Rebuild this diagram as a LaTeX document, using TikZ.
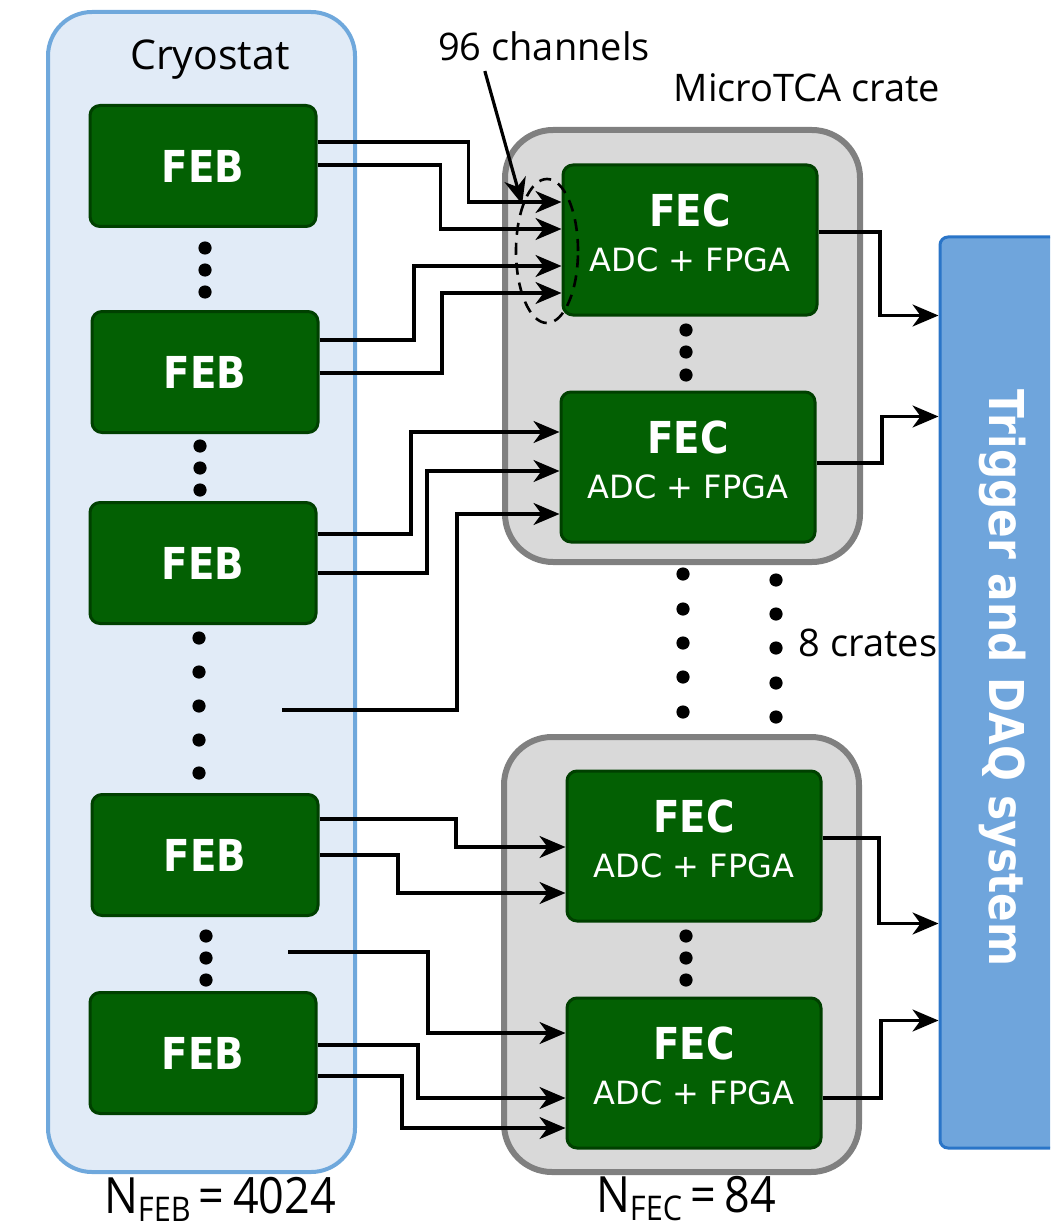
\documentclass[tikz,border=0pt]{standalone}
\usepackage{fontspec}
\setmainfont{Open Sans}
\newfontfamily\boxfont{DejaVu Sans}
\newfontfamily\boxboldfont[FakeStretch=0.88]{DejaVu Sans}
\newfontfamily\countfont[FakeStretch=0.9]{Open Sans}
\usetikzlibrary{arrows.meta,calc,shapes.geometric}

\definecolor{cryofill}{RGB}{225,235,247}
\definecolor{cryoline}{RGB}{111,168,220}
\definecolor{cratefill}{RGB}{217,217,217}
\definecolor{crateline}{RGB}{128,128,128}
\definecolor{febgreen}{RGB}{3,96,3}
\definecolor{febline}{RGB}{0,64,0}
\definecolor{daqfill}{RGB}{111,165,220}
\definecolor{daqline}{RGB}{42,117,200}

\tikzset{
  cryobox/.style={rectangle, rounded corners=22pt, draw=cryoline, line width=2pt, fill=cryofill,
    minimum width=153.5pt, minimum height=580pt},
  cratebox/.style={rectangle, rounded corners=24pt, draw=crateline, line width=3pt, fill=cratefill,
    minimum width=177.5pt, minimum height=216pt},
  febbox/.style={rectangle, rounded corners=5pt, draw=febline, line width=1.5pt, fill=febgreen,
    minimum width=113pt, minimum height=60.5pt, text=white,
    font=\boxboldfont\bfseries\fontsize{22}{24}\selectfont},
  fecbox/.style={rectangle, rounded corners=5pt, draw=febline, line width=1.5pt, fill=febgreen,
    minimum width=127pt, minimum height=75pt, text=white, align=center, text depth=7pt,
    font=\boxfont\fontsize{16}{22.5}\selectfont},
  daqbox/.style={rectangle, rounded corners=4pt, draw=daqline, line width=1.5pt, fill=daqfill,
    minimum width=75pt, minimum height=455.5pt},
  daqtext/.style={text=white, rotate=-90, inner sep=0pt,
    font=\boxboldfont\bfseries\fontsize{24}{28}\selectfont},
  notetext/.style={inner sep=0pt, font=\fontsize{19}{22}\selectfont},
  counttext/.style={inner sep=0pt, font=\countfont\fontsize{25}{28}\selectfont},
  sig/.style={line width=1.6pt, -{Stealth[length=13pt, width=11pt, inset=4pt]}},
}

\newcommand{\fechead}{{\boxboldfont\bfseries\fontsize{22}{22.5}\selectfont FEC}}

\begin{document}
\begin{tikzpicture}[x=0.5pt, y=-0.5pt]
  \useasboundingbox (0,0) rectangle (1050,1230);

  % cryostat with the front-end boards
  \node[cryobox] (cryostat) at (201.5,592) {};
  \node[notetext, font=\fontsize{20.5}{24}\selectfont] (cryolabel) at (210,60) {Cryostat};

  \node[febbox] (feb1) at (203,166) {FEB};
  \node[febbox] (feb2) at (205,372) {FEB};
  \node[febbox] (feb3) at (203,563) {FEB};
  \node[febbox] (feb4) at (205,855) {FEB};
  \node[febbox] (feb5) at (203,1053) {FEB};

  \foreach \y in {248,270,292} \fill (205,\y) circle (3.3pt);
  \foreach \y in {446,468,490} \fill (200,\y) circle (3.3pt);
  \foreach \y in {638,672,706,740,773} \fill (199,\y) circle (3.3pt);
  \foreach \y in {936,958,980} \fill (206,\y) circle (3.3pt);

  % MicroTCA crates with the front-end cards
  \node[cratebox] (crate1) at (682.5,346) {};
  \node[cratebox, minimum height=217.5pt] (crate2) at (681.5,954.5) {};
  \node[notetext] (cratelabel) at (807,88) {MicroTCA crate};

  \node[fecbox] (fec1) at (690,240) {\fechead\\ADC + FPGA};
  \node[fecbox] (fec2) at (688,467) {\fechead\\ADC + FPGA};
  \node[fecbox] (fec3) at (694,846) {\fechead\\ADC + FPGA};
  \node[fecbox] (fec4) at (694,1073) {\fechead\\ADC + FPGA};

  \foreach \y in {330,352,375} \fill (686,\y) circle (3.3pt);
  \foreach \y in {936,958,980} \fill (686,\y) circle (3.3pt);
  \foreach \y in {574,609,643,677,712} \fill (683,\y) circle (3.3pt);
  \foreach \y in {580,614,648,683,717} \fill (776,\y) circle (3.3pt);
  \node[notetext] (cratecount) at (868,643) {8 crates};

  % trigger and DAQ
  \begin{scope}
    \clip (0,0) rectangle (1050,1230);
    \node[daqbox] (daq) at (1015,692.5) {};
  \end{scope}
  \node[daqtext] (daqlabel) at (1003,678) {Trigger and DAQ system};

  % FEB -> FEC
  \draw[sig] ($(feb1.east)+(0,-24)$) -- ++(151,0) |- ($(fec1.west)+(0,-38)$);
  \draw[sig] ($(feb1.east)+(0,-1)$) -- ++(123,0) |- ($(fec1.west)+(0,-11)$);
  \draw[sig] ($(feb2.east)+(0,-32)$) -- ++(94.5,0) |- ($(fec1.west)+(0,26)$);
  \draw[sig] ($(feb2.east)+(0,1)$) -- ++(122.5,0) |- ($(fec1.west)+(0,53)$);

  \draw[sig] ($(feb3.east)+(0,-29)$) -- ++(93.5,0) |- ($(fec2.west)+(0,-35)$);
  \draw[sig] ($(feb3.east)+(0,10)$) -- ++(109.5,0) |- ($(fec2.west)+(0,4)$);
  \coordinate (loose1) at (282,710);
  \draw[sig] (loose1) -- ++(175,0) |- ($(fec2.west)+(0,47)$);

  \draw[sig] ($(feb4.east)+(0,-36)$) -- ++(136.5,0) |- ($(fec3.west)+(0,1)$);
  \draw[sig] ($(feb4.east)+(0,0)$) -- ++(78.5,0) |- ($(fec3.west)+(0,47)$);
  \coordinate (loose2) at (288,952);
  \draw[sig] (loose2) -- ++(140,0) |- ($(fec4.west)+(0,-40)$);
  \draw[sig] ($(feb5.east)+(0,-8)$) -- ++(100.5,0) |- ($(fec4.west)+(0,25)$);
  \draw[sig] ($(feb5.east)+(0,23)$) -- ++(84.5,0) |- ($(fec4.west)+(0,55)$);

  % FEC -> trigger and DAQ
  \draw[sig] ($(fec1.east)+(0,-8)$) -- ++(61.5,0) |- ($(daq.north west)+(0,80)$);
  \draw[sig] ($(fec2.east)+(0,-4)$) -- ++(65.5,0) |- ($(daq.north west)+(0,181)$);
  \draw[sig] ($(fec3.east)+(0,-8)$) -- ++(56.5,0) |- ($(daq.north west)+(0,688)$);
  \draw[sig] ($(fec4.east)+(0,25)$) -- ++(58.5,0) |- ($(daq.north west)+(0,785)$);

  % channel group
  \node[ellipse, draw, dashed, dash pattern=on 6pt off 4pt, line width=1.3pt,
    minimum width=31pt, minimum height=72pt, inner sep=0pt] (chgroup) at (547,251) {};
  \node[notetext] (chlabel) at (544,46) {96 channels};
  \draw[sig] ($(chlabel.south west)+(47,10)$) -- (chgroup.118);

  % counts
  \node[counttext] (nfeb) at (220,1199)
    {N\raisebox{-4pt}{\fontsize{17}{17}\selectfont FEB}\,=\,4024};
  \node[counttext] (nfec) at (686,1199)
    {N\raisebox{-4pt}{\fontsize{17}{17}\selectfont FEC}\,=\,84};
\end{tikzpicture}
\end{document}
